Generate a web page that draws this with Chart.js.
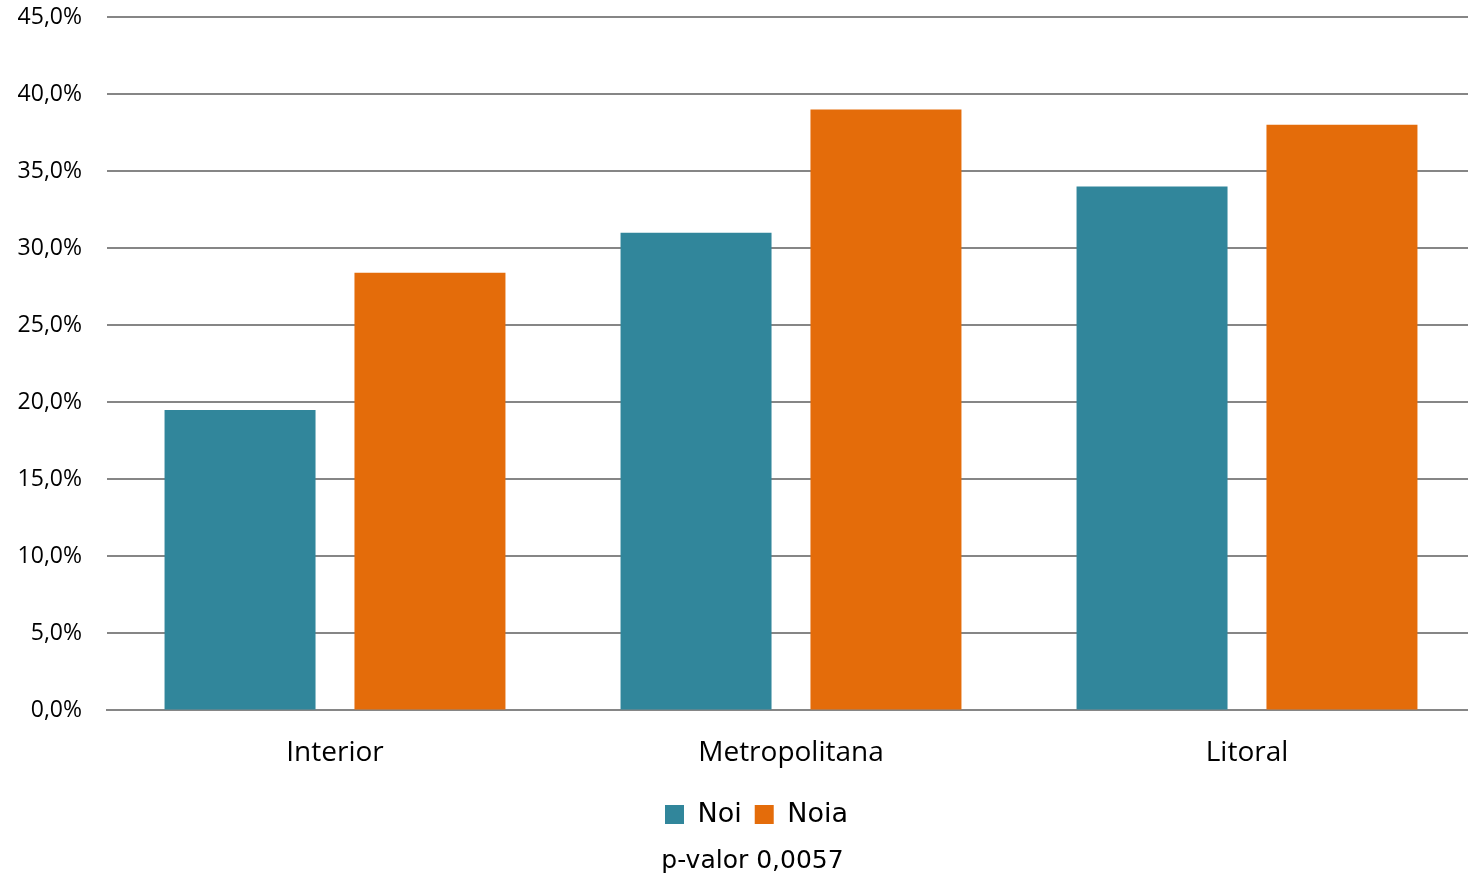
<!DOCTYPE html>
<html>
<head>
<meta charset="utf-8">
<script src="https://cdn.jsdelivr.net/npm/chart.js@4/dist/chart.umd.min.js"></script>
<style>
  html, body { margin: 0; padding: 0; background: #fff; overflow: hidden; }
  #wrap { width: 1475px; height: 876px; }
</style>
</head>
<body>
<div id="wrap"><canvas id="chart"></canvas></div>
<script>
// categories and values (percent)
const categories = ["Interior", "Metropolitana", "Litoral"];
const noiValues  = [19.5, 31.0, 34.0];
const noiaValues = [28.4, 39.0, 38.0];
const yTicks = [0, 5, 10, 15, 20, 25, 30, 35, 40, 45];
const footNote = "p-valor 0,0057";

const TEAL   = "#31869b";
const ORANGE = "#e46c0a";

function pct(v) {
  return v.toFixed(1).replace(".", ",") + "%";
}

// nudge legend and footnote to the right, as in the original
const shiftBottomBoxes = {
  id: "shiftBottomBoxes",
  afterLayout(chart) {
    const move = (box, dx) => { if (box) { box.left += dx; box.right += dx; } };
    move(chart.legend, 19);
    move(chart.titleBlock, 15);
  }
};

new Chart(document.getElementById("chart").getContext("2d"), {
  type: "bar",
  data: {
    labels: categories,
    datasets: [
      { label: "Noi",  data: noiValues,  backgroundColor: TEAL },
      { label: "Noia", data: noiaValues, backgroundColor: ORANGE }
    ]
  },
  plugins: [shiftBottomBoxes],
  options: {
    responsive: true, maintainAspectRatio: false, animation: false,
    categoryPercentage: 0.833, barPercentage: 0.795,
    layout: { padding: { top: 17, right: 0, left: 0, bottom: 0 } },
    plugins: {
      legend: {
        position: "bottom",
        labels: {
          color: "#000", boxWidth: 19, boxHeight: 19, padding: 13,
          font: { family: "'DejaVu Sans'", size: 27 }
        }
      },
      title: {
        display: true, position: "bottom", text: footNote, color: "#000",
        padding: { top: 8, bottom: 0 },
        font: { family: "'DejaVu Sans'", size: 25, weight: "normal" }
      },
      tooltip: { enabled: false }
    },
    scales: {
      x: {
        grid: { display: false },
        border: { color: "#868686", width: 2 },
        ticks: { color: "#000", padding: 18, font: { family: "'Open Sans'", size: 28 } }
      },
      y: {
        min: 0, max: 45,
        afterBuildTicks: axis => { axis.ticks = yTicks.map(v => ({ value: v })); },
        afterFit: axis => { axis.width = 107; axis.paddingTop = 0; },
        grid: { color: "#868686", lineWidth: 2, drawTicks: false },
        border: { display: false },
        ticks: { color: "#000", padding: 25, callback: v => pct(v), font: { family: "'Open Sans'", size: 23 } }
      }
    }
  }
});
</script>
</body>
</html>
